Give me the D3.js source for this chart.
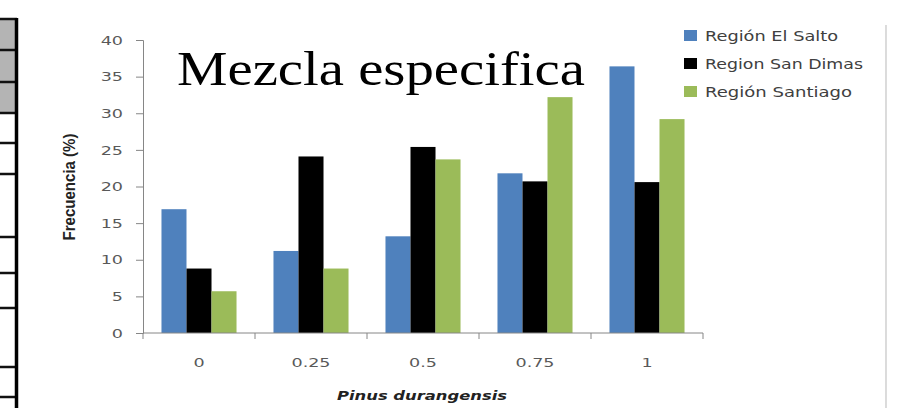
<!DOCTYPE html>
<html>
<head>
<meta charset="utf-8">
<script src="https://cdn.jsdelivr.net/npm/d3@7"></script>
<style>
  html, body { margin: 0; padding: 0; background: #fff; }
  svg { display: block; }
</style>
</head>
<body>
<svg id="chart" width="901" height="408"></svg>
<script>
// Proportion of Pinus durangensis in the stand mix
const categories = ["0", "0.25", "0.5", "0.75", "1"];
const seriesNames = ["Región El Salto", "Region San Dimas", "Región Santiago"];
const elSalto   = [16.9, 11.2, 13.2, 21.8, 36.4];
const sanDimas  = [8.8, 24.1, 25.4, 20.7, 20.6];
const santiago  = [5.7, 8.8, 23.7, 32.2, 29.2];
const yTicks = [0, 5, 10, 15, 20, 25, 30, 35, 40];
const colors = ["#4f81bd", "#000000", "#9bbb59"];

const series = [elSalto, sanDimas, santiago];

const svg = d3.select("#chart");

// Table margin at the left edge of the page
const rowEdges = [19, 50, 82, 113, 143, 174, 237, 273, 308, 367, 397];
const margin = svg.append("g");
rowEdges.slice(0, 3).forEach((y0, i) => {
  margin.append("rect").attr("x", 0).attr("y", y0).attr("width", 16)
    .attr("height", rowEdges[i + 1] - y0).attr("fill", "#b4b4b4");
});
rowEdges.forEach(y0 => {
  margin.append("line").attr("x1", 0).attr("x2", 17).attr("y1", y0).attr("y2", y0)
    .attr("stroke", "#111").attr("stroke-width", 2.5);
});
margin.append("line").attr("x1", 16.5).attr("x2", 16.5).attr("y1", 18).attr("y2", 408)
  .attr("stroke", "#000").attr("stroke-width", 3.5);

// Frame line on the right
svg.append("line").attr("x1", 886).attr("x2", 886).attr("y1", 25).attr("y2", 408)
  .attr("stroke", "#c4c4c4").attr("stroke-width", 1.2);

const x = d3.scaleBand().domain(categories).range([143, 703])
  .paddingInner(0.33).paddingOuter(0.165);
const xs = d3.scaleBand().domain(d3.range(series.length)).range([0, x.bandwidth()]);
const y = d3.scaleLinear().domain([0, 40]).range([333, 40]);

const axisColor = "#868686";
const labelColor = "#595959";
const tickFont = "DejaVu Sans, Verdana, sans-serif";

// Bars
const groups = svg.append("g").selectAll("g").data(categories).join("g")
  .attr("transform", d => `translate(${x(d)},0)`);
groups.selectAll("rect")
  .data((d, i) => series.map((s, k) => ({ k, v: s[i] })))
  .join("rect")
  .attr("x", d => xs(d.k))
  .attr("width", xs.bandwidth())
  .attr("y", d => y(d.v))
  .attr("height", d => y(0) - y(d.v))
  .attr("fill", d => colors[d.k]);

// Y axis
const yAxis = svg.append("g").attr("transform", "translate(143,0)")
  .call(d3.axisLeft(y).tickValues(yTicks).tickSize(7).tickPadding(13));
yAxis.select(".domain").attr("stroke", axisColor);
yAxis.selectAll(".tick line").attr("stroke", axisColor);
yAxis.selectAll(".tick text")
  .attr("fill", labelColor).attr("font-family", tickFont).attr("font-size", 13)
  .attr("transform", function () {
    const tx = +d3.select(this).attr("x");
    return `translate(${tx},0) scale(1.35,1) translate(${-tx},0)`;
  });

// X axis: labels centred on groups, ticks on group boundaries
const xAxis = svg.append("g").attr("transform", "translate(0,333)");
xAxis.append("line").attr("x1", 143).attr("x2", 703).attr("stroke", axisColor);
d3.range(categories.length + 1).forEach(i => {
  const bx = x.range()[0] + i * x.step();
  xAxis.append("line").attr("x1", bx).attr("x2", bx).attr("y1", 0).attr("y2", 6)
    .attr("stroke", axisColor);
});
xAxis.selectAll("text.lbl").data(categories).join("text")
  .attr("class", "lbl")
  .attr("fill", labelColor).attr("font-family", tickFont).attr("font-size", 13)
  .attr("text-anchor", "middle")
  .attr("transform", d => `translate(${x(d) + x.bandwidth() / 2},34) scale(1.35,1)`)
  .text(d => d);

// Axis titles
svg.append("text")
  .attr("transform", "translate(75,187) rotate(-90)")
  .attr("text-anchor", "middle")
  .attr("font-family", "Liberation Sans Narrow, Liberation Sans, sans-serif")
  .attr("font-size", 16).attr("font-weight", 600).attr("fill", "#222")
  .attr("textLength", 107).attr("lengthAdjust", "spacingAndGlyphs")
  .text("Frecuencia (%)");

svg.append("text")
  .attr("x", 422).attr("y", 400)
  .attr("text-anchor", "middle")
  .attr("font-family", "DejaVu Sans, sans-serif")
  .attr("font-size", 13).attr("font-weight", "bold").attr("font-style", "italic")
  .attr("fill", "#222")
  .attr("textLength", 170).attr("lengthAdjust", "spacingAndGlyphs")
  .text("Pinus durangensis");

// Title
svg.append("text")
  .attr("x", 177).attr("y", 85)
  .attr("font-family", "Liberation Serif, Times New Roman, serif")
  .attr("font-size", 48).attr("fill", "#000")
  .attr("textLength", 408).attr("lengthAdjust", "spacingAndGlyphs")
  .text("Mezcla especifica");

// Legend
const legendWidths = [133, 158, 147];
const legend = svg.append("g").selectAll("g").data(seriesNames).join("g")
  .attr("transform", (d, i) => `translate(684,${36 + i * 28})`);
legend.append("rect").attr("x", 0).attr("y", -6).attr("width", 13).attr("height", 11)
  .attr("fill", (d, i) => colors[i]);
legend.append("text")
  .attr("x", 21).attr("y", 5)
  .attr("font-family", "DejaVu Sans, sans-serif").attr("font-size", 14)
  .attr("fill", "#404040")
  .attr("textLength", (d, i) => legendWidths[i]).attr("lengthAdjust", "spacingAndGlyphs")
  .text(d => d);
</script>
</body>
</html>
